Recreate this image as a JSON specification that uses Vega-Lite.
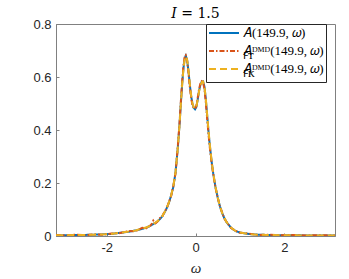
{
  "$schema": "https://vega.github.io/schema/vega-lite/v6.json",
  "width": 279,
  "height": 212,
  "autosize": "none",
  "padding": {"left": 56, "top": 24, "right": 14, "bottom": 43},
  "title": {"text": "𝐼 = 1.5", "font": "DejaVu Serif", "fontSize": 14, "fontWeight": "normal", "color": "#000000", "offset": -3},
  "data": {
    "values": [
      {"w": -3.14, "a": 0.003, "b": 0.004, "c": 0.003},
      {"w": -2.9, "a": 0.003, "b": 0.002, "c": 0.003},
      {"w": -2.7, "a": 0.004, "b": 0.005, "c": 0.004},
      {"w": -2.5, "a": 0.004, "b": 0.003, "c": 0.004},
      {"w": -2.3, "a": 0.005, "b": 0.006, "c": 0.005},
      {"w": -2.1, "a": 0.006, "b": 0.005, "c": 0.006},
      {"w": -1.9, "a": 0.008, "b": 0.009, "c": 0.008},
      {"w": -1.7, "a": 0.012, "b": 0.011, "c": 0.012},
      {"w": -1.5, "a": 0.016, "b": 0.019, "c": 0.017},
      {"w": -1.35, "a": 0.021, "b": 0.018, "c": 0.021},
      {"w": -1.2, "a": 0.027, "b": 0.031, "c": 0.028},
      {"w": -1.1, "a": 0.032, "b": 0.029, "c": 0.033},
      {"w": -1.0, "a": 0.040, "b": 0.042, "c": 0.040},
      {"w": -0.95, "a": 0.045, "b": 0.058, "c": 0.046},
      {"w": -0.9, "a": 0.050, "b": 0.048, "c": 0.051},
      {"w": -0.85, "a": 0.056, "b": 0.055, "c": 0.057},
      {"w": -0.8, "a": 0.064, "b": 0.068, "c": 0.063},
      {"w": -0.75, "a": 0.074, "b": 0.072, "c": 0.075},
      {"w": -0.7, "a": 0.088, "b": 0.092, "c": 0.089},
      {"w": -0.65, "a": 0.104, "b": 0.103, "c": 0.105},
      {"w": -0.6, "a": 0.125, "b": 0.128, "c": 0.126},
      {"w": -0.55, "a": 0.152, "b": 0.150, "c": 0.153},
      {"w": -0.5, "a": 0.185, "b": 0.188, "c": 0.186},
      {"w": -0.45, "a": 0.240, "b": 0.236, "c": 0.241},
      {"w": -0.4, "a": 0.330, "b": 0.334, "c": 0.330},
      {"w": -0.36, "a": 0.420, "b": 0.425, "c": 0.418},
      {"w": -0.33, "a": 0.500, "b": 0.508, "c": 0.497},
      {"w": -0.30, "a": 0.575, "b": 0.584, "c": 0.572},
      {"w": -0.27, "a": 0.635, "b": 0.645, "c": 0.632},
      {"w": -0.24, "a": 0.672, "b": 0.680, "c": 0.670},
      {"w": -0.22, "a": 0.680, "b": 0.683, "c": 0.678},
      {"w": -0.19, "a": 0.665, "b": 0.663, "c": 0.666},
      {"w": -0.16, "a": 0.625, "b": 0.618, "c": 0.628},
      {"w": -0.13, "a": 0.575, "b": 0.566, "c": 0.578},
      {"w": -0.10, "a": 0.530, "b": 0.522, "c": 0.533},
      {"w": -0.07, "a": 0.500, "b": 0.495, "c": 0.502},
      {"w": -0.04, "a": 0.484, "b": 0.482, "c": 0.486},
      {"w": -0.01, "a": 0.478, "b": 0.480, "c": 0.480},
      {"w": 0.02, "a": 0.487, "b": 0.492, "c": 0.489},
      {"w": 0.05, "a": 0.515, "b": 0.522, "c": 0.515},
      {"w": 0.08, "a": 0.548, "b": 0.554, "c": 0.546},
      {"w": 0.11, "a": 0.570, "b": 0.575, "c": 0.568},
      {"w": 0.14, "a": 0.582, "b": 0.584, "c": 0.580},
      {"w": 0.17, "a": 0.584, "b": 0.580, "c": 0.583},
      {"w": 0.20, "a": 0.565, "b": 0.556, "c": 0.566},
      {"w": 0.23, "a": 0.520, "b": 0.508, "c": 0.522},
      {"w": 0.26, "a": 0.460, "b": 0.448, "c": 0.463},
      {"w": 0.29, "a": 0.400, "b": 0.390, "c": 0.404},
      {"w": 0.32, "a": 0.345, "b": 0.337, "c": 0.349},
      {"w": 0.36, "a": 0.285, "b": 0.280, "c": 0.288},
      {"w": 0.40, "a": 0.235, "b": 0.232, "c": 0.237},
      {"w": 0.45, "a": 0.185, "b": 0.183, "c": 0.186},
      {"w": 0.50, "a": 0.145, "b": 0.144, "c": 0.146},
      {"w": 0.55, "a": 0.112, "b": 0.113, "c": 0.112},
      {"w": 0.60, "a": 0.087, "b": 0.088, "c": 0.087},
      {"w": 0.65, "a": 0.067, "b": 0.066, "c": 0.068},
      {"w": 0.70, "a": 0.052, "b": 0.053, "c": 0.052},
      {"w": 0.80, "a": 0.031, "b": 0.030, "c": 0.032},
      {"w": 0.90, "a": 0.019, "b": 0.020, "c": 0.019},
      {"w": 1.0, "a": 0.013, "b": 0.012, "c": 0.013},
      {"w": 1.1, "a": 0.010, "b": 0.011, "c": 0.010},
      {"w": 1.25, "a": 0.007, "b": 0.008, "c": 0.007},
      {"w": 1.4, "a": 0.005, "b": 0.004, "c": 0.005},
      {"w": 1.6, "a": 0.004, "b": 0.005, "c": 0.004},
      {"w": 1.9, "a": 0.003, "b": 0.003, "c": 0.003},
      {"w": 2.2, "a": 0.003, "b": 0.004, "c": 0.003},
      {"w": 2.5, "a": 0.002, "b": 0.002, "c": 0.002},
      {"w": 2.8, "a": 0.002, "b": 0.003, "c": 0.002},
      {"w": 3.14, "a": 0.002, "b": 0.002, "c": 0.002}
    ]
  },
  "transform": [{"fold": ["a", "b", "c"], "as": ["s", "v"]}],
  "mark": {"type": "line", "strokeWidth": 2, "clip": true},
  "encoding": {
    "x": {
      "field": "w", "type": "quantitative",
      "scale": {"domain": [-3.1416, 3.1416], "nice": false, "zero": false},
      "axis": {"values": [-2, 0, 2], "title": "ω", "titleFont": "Liberation Serif", "titleFontStyle": "italic", "titleFontSize": 15, "titleFontWeight": "normal", "titlePadding": 6, "labelExpr": "replace(datum.label, '−', '-')", "labelPadding": 8}
    },
    "y": {
      "field": "v", "type": "quantitative",
      "scale": {"domain": [0, 0.8], "nice": false},
      "axis": {"values": [0, 0.2, 0.4, 0.6, 0.8], "format": "~g", "title": null, "labelPadding": 8}
    },
    "color": {
      "field": "s", "type": "nominal",
      "scale": {"domain": ["a", "b", "c"], "range": ["#0072BD", "#D95319", "#EDB120"]},
      "legend": {
        "title": null,
        "orient": "none", "legendX": 150, "legendY": 0,
        "labelExpr": "datum.value == 'a' ? ['𝐴(149.9, 𝜔)', '\u00a0'] : datum.value == 'b' ? ['𝐴ᴰᴹᴰ(149.9, 𝜔)', '\u00a0\u00a0\u00a0ꜰᴛ'] : ['𝐴ᴰᴹᴰ(149.9, 𝜔)', '\u00a0\u00a0\u00a0ꜰᴋ']",
        "encode": {"labels": {"update": {"lineHeight": {"value": 4}}}}
      }
    },
    "strokeDash": {
      "field": "s", "type": "nominal",
      "scale": {"domain": ["a", "b", "c"], "range": [[1, 0], [5, 2, 1.5, 2], [7, 4]]},
      "legend": {
        "title": null,
        "orient": "none", "legendX": 150, "legendY": 0,
        "labelExpr": "datum.value == 'a' ? ['𝐴(149.9, 𝜔)', '\u00a0'] : datum.value == 'b' ? ['𝐴ᴰᴹᴰ(149.9, 𝜔)', '\u00a0\u00a0\u00a0ꜰᴛ'] : ['𝐴ᴰᴹᴰ(149.9, 𝜔)', '\u00a0\u00a0\u00a0ꜰᴋ']",
        "encode": {"labels": {"update": {"lineHeight": {"value": 4}}}}
      }
    }
  },
  "config": {
    "view": {"stroke": "#808080", "strokeWidth": 1},
    "axis": {
      "grid": false,
      "domainColor": "#808080",
      "tickColor": "#808080",
      "tickSize": -3,
      "labelColor": "#262626",
      "labelFont": "Liberation Sans",
      "labelFontSize": 13,
      "titleColor": "#262626"
    },
    "legend": {
      "strokeColor": "#262626",
      "fillColor": "#ffffff",
      "padding": 2,
      "symbolType": "M-2.5,0H2.5",
      "symbolSize": 144,
      "symbolOffset": 9,
      "symbolStrokeWidth": 2,
      "labelFont": "Liberation Serif",
      "labelFontSize": 13,
      "labelColor": "#000000",
      "labelOffset": 12,
      "labelLimit": 200,
      "rowPadding": -2
    }
  }
}
